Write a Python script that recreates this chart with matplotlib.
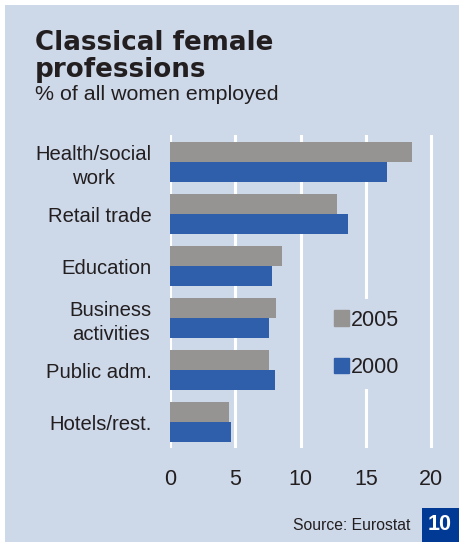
import matplotlib.pyplot as plt
from matplotlib.patches import Rectangle, Patch
import numpy as np

# Share of all employed women by sector (%)
categories = ["Health/social\nwork", "Retail trade", "Education",
              "Business\nactivities", "Public adm.", "Hotels/rest."]
share_2005 = [18.5, 12.8, 8.6, 8.1, 7.6, 4.5]
share_2000 = [16.6, 13.6, 7.8, 7.6, 8.0, 4.7]
ticks = [0, 5, 10, 15, 20]

bg = "#cdd8e9"
grey = "#969492"
blue = "#2f5fab"
navy = "#003a95"
ink = "#231f20"

W, H = 462, 545
fig = plt.figure(figsize=(W / 100, H / 100), dpi=100)
fig.patch.set_facecolor("white")

# light blue panel with a thin white margin
fig.patches.append(Rectangle((5 / W, 3 / H), 454 / W, 537 / H,
                             transform=fig.transFigure, facecolor=bg,
                             edgecolor="none", zorder=-5))

fig.text(35 / W, 1 - 50 / H, "Classical female", fontsize=18.8,
         fontweight="bold", color=ink, family="DejaVu Sans", va="baseline")
fig.text(35 / W, 1 - 77 / H, "professions", fontsize=18.8,
         fontweight="bold", color=ink, family="DejaVu Sans", va="baseline")
fig.text(35 / W, 1 - 100 / H, "% of all women employed", fontsize=15.4,
         color=ink, family="Liberation Sans", va="baseline")

ax = fig.add_axes([170 / W, 1 - 448 / H, 281 / W, 313 / H])
ax.set_facecolor(bg)
for s in ax.spines.values():
    s.set_visible(False)

y = np.arange(len(categories))
h = 0.385
ax.barh(y - h / 2, share_2005, height=h, color=grey, zorder=3, label="2005")
ax.barh(y + h / 2, share_2000, height=h, color=blue, zorder=3, label="2000")

ax.set_xlim(0, 21.5)
ax.set_ylim(5.5, -0.52)
ax.set_xticks(ticks)
ax.set_yticks(y)
ax.set_yticklabels(categories, multialignment="center", linespacing=1.3)
for t in ticks:
    ax.axvline(t, color="white", lw=2.2, zorder=1)
ax.tick_params(length=0, colors=ink)
ax.tick_params(axis="x", pad=15, labelsize=15.5)
ax.tick_params(axis="y", pad=13, labelsize=14.6)
for lab in ax.get_xticklabels() + ax.get_yticklabels():
    lab.set_family("Liberation Sans")

leg = ax.legend(handles=[Patch(color=grey, label="2005"),
                         Patch(color=blue, label="2000")],
                loc="center left", bbox_to_anchor=(323 / W, 1 - 344 / H),
                bbox_transform=fig.transFigure, frameon=True,
                facecolor=bg, edgecolor="none", framealpha=1,
                handlelength=0.7, handleheight=0.7, handletextpad=0.1,
                labelspacing=1.25, borderpad=0.5, borderaxespad=0,
                prop={"family": "Liberation Sans", "size": 15.5})
leg.set_zorder(5)
for t in leg.get_texts():
    t.set_color(ink)

fig.text(410 / W, 1 - 525 / H, "Source: Eurostat", fontsize=11.3, color=ink,
         family="Liberation Sans", ha="right", va="center")
fig.patches.append(Rectangle((422 / W, 3 / H), 37 / W, 34 / H,
                             transform=fig.transFigure, facecolor=navy,
                             edgecolor="none", zorder=1))
fig.text(440 / W, 1 - 524 / H, "10", fontsize=15.5, fontweight="bold",
         color="white", family="Liberation Sans", ha="center", va="center")

fig.savefig("out.png", dpi=100, facecolor=fig.get_facecolor())
